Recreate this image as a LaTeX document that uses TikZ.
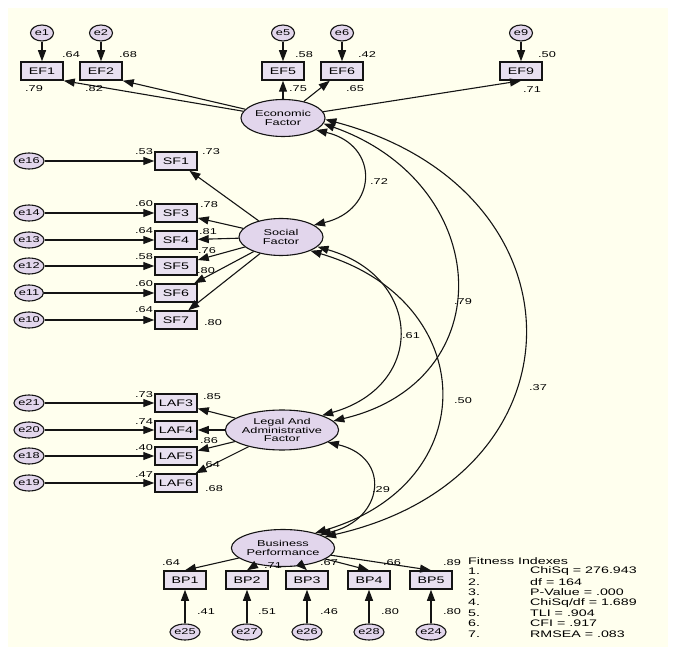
\documentclass[tikz,border=0pt]{standalone}
\usepackage{fontspec}
\setmainfont[FakeStretch=1.5]{Liberation Sans}
\usetikzlibrary{shapes.geometric,arrows.meta}
\definecolor{bgc}{RGB}{255,255,238}
\definecolor{latc}{RGB}{226,214,236}
\definecolor{obsc}{RGB}{232,224,240}
\definecolor{lnc}{RGB}{20,20,20}
\begin{document}
\begin{tikzpicture}[x=1pt,y=-1pt,
  lat/.style={ellipse,draw=lnc,line width=1.1pt,fill=latc,minimum width=84pt,minimum height=37pt,inner sep=0pt,align=center,font=\fontsize{8.5}{8.8}\selectfont},
  obsv/.style={rectangle,draw=lnc,line width=1.5pt,fill=obsc,minimum width=42pt,minimum height=18pt,inner sep=0pt,font=\fontsize{9.5}{9.5}\selectfont},
  err/.style={ellipse,draw=lnc,line width=1.1pt,fill=latc,minimum width=23pt,minimum height=16pt,inner sep=0pt,font=\fontsize{8.5}{8.5}\selectfont},
  arr/.style={draw=lnc,line width=1.1pt,-{Triangle[length=11pt,width=8pt]}},
  cov/.style={draw=lnc,line width=1.1pt,{Triangle[length=11pt,width=8pt]}-{Triangle[length=11pt,width=8pt]}},
  val/.style={font=\fontsize{8.5}{8.5}\selectfont,inner sep=0pt},
  fit/.style={font=\fontsize{9.5}{9.5}\selectfont,inner sep=0pt,anchor=west}
]
\useasboundingbox (0,0) rectangle (675,652);
\fill[bgc] (8,8) rectangle (668,647);

% Economic factor
\node[lat] (EF) at (283,118) {Economic\\Factor};
\node[obsv] (EF1) at (42,71) {EF1};
\node[obsv] (EF2) at (101,71) {EF2};
\node[obsv] (EF5) at (283,71) {EF5};
\node[obsv] (EF6) at (342,71) {EF6};
\node[obsv] (EF9) at (521,71) {EF9};
\node[err] (e1) at (42,33) {e1};
\node[err] (e2) at (101,33) {e2};
\node[err] (e5) at (283,33) {e5};
\node[err] (e6) at (342,33) {e6};
\node[err] (e9) at (521,33) {e9};
\foreach \a/\b in {e1/EF1,e2/EF2,e5/EF5,e6/EF6,e9/EF9} \draw[arr] (\a) -- (\b);
\draw[arr] (EF) -- (EF1.south east);
\draw[arr] (EF) -- (EF2.south east);
\draw[arr] (EF) -- (EF5);
\draw[arr] (EF) -- (EF6);
\draw[arr] (EF) -- (EF9.south);
\node[val] at (71,55) {.64};
\node[val] at (128,55) {.68};
\node[val] at (304,55) {.58};
\node[val] at (367,55) {.42};
\node[val] at (547,55) {.50};
\node[val] at (34,89) {.79};
\node[val] at (94,89) {.82};
\node[val] at (298,89) {.75};
\node[val] at (355,89) {.65};
\node[val] at (532,90) {.71};

% Social factor
\node[lat] (SF) at (281,237) {Social\\Factor};
\foreach \n/\e/\y in {SF1/e16/161,SF3/e14/213,SF4/e13/240,SF5/e12/266,SF6/e11/293,SF7/e10/320}{
  \node[obsv] (\n) at (176,\y) {\n};
  \node[err] (\e) at (29,\y) {\e};
  \draw[arr] (\e) -- (\n);
  \draw[arr] (SF) -- (\n);
}
\node[val] at (144,152) {.53};
\node[val] at (144,204) {.60};
\node[val] at (144,231) {.64};
\node[val] at (144,257) {.58};
\node[val] at (144,284) {.60};
\node[val] at (144,310) {.64};
\node[val] at (211,152) {.73};
\node[val] at (209,205) {.78};
\node[val] at (208,232) {.81};
\node[val] at (207,251) {.76};
\node[val] at (206,271) {.80};
\node[val] at (213,323) {.80};

% Legal and administrative factor
\node[lat,minimum height=40pt] (LAF) at (282,430) {Legal And\\Administrative\\Factor};
\foreach \n/\e/\y in {LAF3/e21/403,LAF4/e20/430,LAF5/e18/456,LAF6/e19/483}{
  \node[obsv] (\n) at (176,\y) {\n};
  \node[err] (\e) at (29,\y) {\e};
  \draw[arr] (\e) -- (\n);
  \draw[arr] (LAF) -- (\n);
}
\node[val] at (144,395) {.73};
\node[val] at (144,422) {.74};
\node[val] at (144,448) {.40};
\node[val] at (144,475) {.47};
\node[val] at (212,397) {.85};
\node[val] at (209,441) {.86};
\node[val] at (211,465) {.64};
\node[val] at (214,489) {.68};

% Business performance
\node[lat] (BP) at (283,548) {Business\\Performance};
\foreach \n/\e/\x in {BP1/e25/185,BP2/e27/247,BP3/e26/307,BP4/e28/369,BP5/e24/431}{
  \node[obsv] (\n) at (\x,580) {\n};
  \node[err] (\e) at (\x,632) {\e};
  \draw[arr] (\e) -- (\n);
  \draw[arr] (BP) -- (\n.north);
}
\node[val] at (171,563) {.64};
\node[val] at (273,566) {.71};
\node[val] at (329,563) {.67};
\node[val] at (392,563) {.66};
\node[val] at (452,563) {.89};
\node[val] at (206,612) {.41};
\node[val] at (267,612) {.51};
\node[val] at (329,612) {.46};
\node[val] at (390,612) {.80};
\node[val] at (452,612) {.80};

% Covariances
\draw[cov] (EF.-20) .. controls +(64,15) and +(64,-15) .. (SF.20);
\draw[cov] (EF.-8) .. controls +(170,60) and +(170,-40) .. (LAF.10);
\draw[cov] (EF.-2) .. controls +(265,70) and +(265,-60) .. (BP.15);
\draw[cov] (SF.-15) .. controls +(105,30) and +(105,-30) .. (LAF.20);
\draw[cov] (SF.-25) .. controls +(170,50) and +(170,-50) .. (BP.25);
\draw[cov] (LAF.-15) .. controls +(64,15) and +(64,-15) .. (BP.20);
\node[val] at (379,182) {.72};
\node[val] at (463,302) {.79};
\node[val] at (538,388) {.37};
\node[val] at (411,336) {.61};
\node[val] at (463,401) {.50};
\node[val] at (381,490) {.29};

% Fit indexes
\node[fit] (ft) at (468,561) {Fitness Indexes};
\foreach \k/\t [count=\i] in {1./ChiSq = 276.943, 2./df = 164, 3./P-Value = .000, 4./ChiSq\slash df = 1.689, 5./TLI = .904, 6./CFI = .917, 7./RMSEA = .083}{
  \node[fit] (fk\i) at (468,561+10.4*\i) {\k};
  \node[fit] (fv\i) at (530,561+10.4*\i) {\t};
}
\end{tikzpicture}
\end{document}
